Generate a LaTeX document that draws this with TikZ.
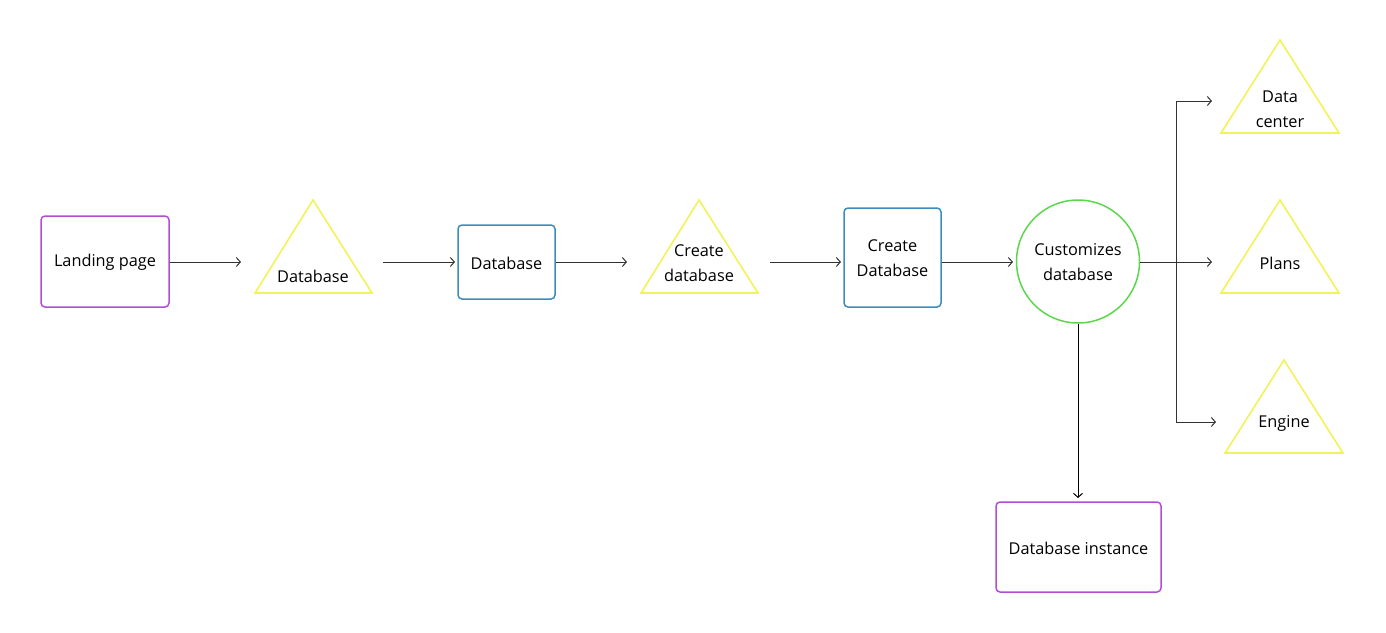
\documentclass[tikz,border=0pt]{standalone}
\usepackage{fontspec}
\setmainfont{Open Sans}
\usetikzlibrary{arrows.meta}
\definecolor{cpurple}{RGB}{178,78,212}
\definecolor{cblue}{RGB}{60,140,190}
\definecolor{cyellow}{RGB}{242,242,90}
\definecolor{cgreen}{RGB}{92,214,76}
\definecolor{cline}{RGB}{50,50,50}
\newcommand\dn[1]{\raisebox{-1pt}[\height][\depth]{#1}}
\tikzset{
  box/.style={draw, line width=1.5pt, rounded corners=4pt, inner sep=0pt},
  tri/.style={draw=cyellow, line width=1.6pt, line join=miter},
  lbl/.style={font=\fontsize{16.3}{25}\selectfont, text=black, align=center, inner sep=0pt},
  conn/.style={draw=cline, line width=1pt, -{Straight Barb[length=4pt,width=9pt]}},
}
\begin{document}
\begin{tikzpicture}[x=1pt,y=-1pt]
\useasboundingbox (0,0) rectangle (1386,632);
% boxes
\node[box, draw=cpurple, minimum width=128pt, minimum height=91pt, lbl] (landing) at (105,261.5) {\dn{Landing page}};
\node[box, draw=cblue, minimum width=97pt, minimum height=74pt, lbl] (db) at (506.5,262) {\dn{Database}};
\node[box, draw=cblue, minimum width=97pt, minimum height=99pt, lbl] (cdb) at (892.5,257.5) {\dn{Create}\\\dn{Database}};
\node[circle, draw=cgreen, line width=1.5pt, minimum size=123pt, inner sep=0pt, lbl] (cust) at (1078,261.5) {\dn{Customizes}\\\dn{database}};
\node[box, draw=cpurple, minimum width=165pt, minimum height=90pt, lbl] (inst) at (1078.5,547) {\dn{Database instance}};
% triangles
\draw[tri] (313,200) -- (372,293) -- (255,293) -- cycle;
\node[lbl] (t1) at (313,276) {Database};
\draw[tri] (699,200) -- (758,293) -- (641,293) -- cycle;
\node[lbl] (t2) at (699,263.5) {Create\\database};
\draw[tri] (1280,40) -- (1339,133) -- (1221,133) -- cycle;
\node[lbl] (t3) at (1280,109.5) {Data\\center};
\draw[tri] (1280,200) -- (1339,293) -- (1221,293) -- cycle;
\node[lbl] (t4) at (1280,263) {Plans};
\draw[tri] (1284,360) -- (1343,453) -- (1225,453) -- cycle;
\node[lbl] (t5) at (1284,423) {Engine};
% connector endpoints
\coordinate (a1) at (241,262);
\coordinate (s2) at (383,262);
\coordinate (a2) at (455,262);
\coordinate (a3) at (627,262);
\coordinate (s4) at (770,262);
\coordinate (a4) at (841,262);
\coordinate (a5) at (1013,262);
\coordinate (br) at (1176,262);
\coordinate (a6) at (1212,262);
\coordinate (a7) at (1212,101);
\coordinate (a8) at (1216,422);
\coordinate (a9) at (1078,498);
% connectors
\draw[conn] (landing.east |- a1) -- (a1);
\draw[conn] (s2) -- (a2);
\draw[conn] (db.east |- a3) -- (a3);
\draw[conn] (s4) -- (a4);
\draw[conn] (cdb.east |- a5) -- (a5);
\draw[conn] (cust.east |- a6) -- (a6);
\draw[conn] (br) |- (a7);
\draw[conn] (br) |- (a8);
\draw[conn, draw=black] (cust.south) -- (a9);
\end{tikzpicture}
\end{document}
